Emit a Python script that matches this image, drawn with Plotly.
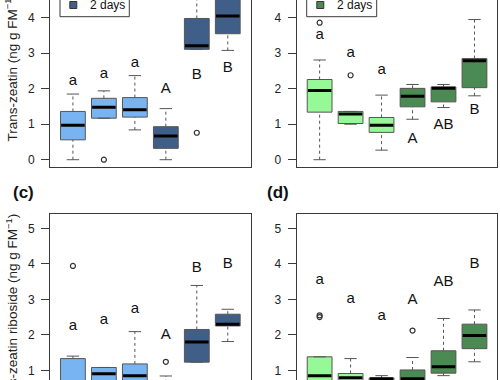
import plotly.graph_objects as go

# ---------------- data ----------------
groups = [1, 2, 3, 4, 5, 6]

# panel (a) Trans-zeatin, blue
a_low = [0.00, 1.17, 0.84, 0.00, 3.11, 3.08]
a_q1 = [0.56, 1.17, 1.20, 0.32, 3.11, 3.55]
a_med = [0.97, 1.48, 1.41, 0.67, 3.21, 4.05]
a_q3 = [1.36, 1.73, 1.75, 0.93, 3.98, 4.70]
a_up = [1.85, 1.94, 2.37, 1.44, 4.90, 5.20]
a_out = [[], [0.00], [], [], [0.76], []]
a_letters = ["a", "a", "a", "A", "B", "B"]
a_letter_y = [2.20, 2.41, 2.71, 1.98, 2.38, 2.57]

# panel (b) Trans-zeatin, green
b_low = [0.00, 1.00, 0.27, 1.14, 1.47, 1.80]
b_q1 = [1.34, 1.02, 0.77, 1.49, 1.63, 2.03]
b_med = [1.95, 1.29, 0.97, 1.79, 2.01, 2.79]
b_q3 = [2.26, 1.36, 1.19, 2.01, 2.05, 2.85]
b_up = [2.81, 1.36, 1.82, 2.12, 2.12, 3.95]
b_out = [[3.86], [2.38], [], [], [], []]
b_letters = ["a", "a", "a", "A", "AB", "B"]
b_letter_y = [3.51, 3.01, 2.51, 0.57, 0.97, 1.40]

# panel (c) Trans-zeatin riboside, blue
c_low = [0.00, 0.30, 0.30, 0.10, 1.23, 1.81]
c_q1 = [0.25, 0.55, 0.60, 0.30, 1.23, 2.25]
c_med = [0.55, 0.90, 0.85, 0.50, 1.80, 2.30]
c_q3 = [1.33, 1.08, 1.18, 0.65, 2.15, 2.58]
c_up = [1.40, 1.08, 2.09, 0.84, 3.39, 2.72]
c_out = [[3.94], [], [], [1.24], [], []]
c_letters = ["a", "a", "a", "A", "B", "B"]
c_letter_y = [2.23, 2.42, 2.73, 1.99, 3.87, 4.00]

# panel (d) Trans-zeatin riboside, green
d_low = [0.20, 0.40, 0.50, 0.30, 0.85, 1.24]
d_q1 = [0.50, 0.60, 0.60, 0.50, 0.92, 1.61]
d_med = [0.85, 0.79, 0.76, 0.76, 1.10, 1.98]
d_q3 = [1.38, 0.91, 0.78, 1.01, 1.55, 2.30]
d_up = [1.38, 1.33, 0.85, 1.36, 2.46, 2.70]
d_out = [[2.50, 2.55], [], [], [2.12], [], []]
d_letters = ["a", "a", "a", "A", "AB", "B"]
d_letter_y = [3.53, 3.01, 2.51, 2.98, 3.48, 4.00]

y_ticks = [0, 1, 2, 3, 4, 5]
legend_label = "2 days"
title_top = "Trans-zeatin (ng g FM<sup>\u22121</sup>)"
title_bottom = "Trans-zeatin riboside (ng g FM<sup>\u22121</sup>)"

# ---------------- styling ----------------
LIGHT_BLUE = "#78B4F2"
DARK_BLUE = "#3F5F88"
LIGHT_GREEN = "#96F896"
DARK_GREEN = "#4B8A52"
EDGE = "#555555"
FRAME = "#3a3a3a"
FONT = "Liberation Sans, Arial, sans-serif"
W, H = 500, 380
BOXW = 0.4   # half box width
CAPW = 0.2   # half cap width


def px(x):
    return x / W


def py(y):
    return 1 - y / H


fig = go.Figure()


def add_panel(k, low, q1, med, q3, up, outs, letters, ly, colors):
    xa, ya = ("x", "y") if k == 1 else (f"x{k}", f"y{k}")
    # boxes (one trace per colour)
    for col in dict.fromkeys(colors):
        bx, by = [], []
        for i, g in enumerate(groups):
            if colors[i] != col:
                continue
            bx += [g - BOXW, g + BOXW, g + BOXW, g - BOXW, g - BOXW, None]
            by += [q1[i], q1[i], q3[i], q3[i], q1[i], None]
        fig.add_trace(go.Scatter(x=bx, y=by, xaxis=xa, yaxis=ya, mode="lines",
                                 fill="toself", fillcolor=col,
                                 line=dict(color=EDGE, width=1),
                                 showlegend=False, hoverinfo="skip"))
    # whiskers (dashed) and caps
    wx, wy = [], []
    cx, cy = [], []
    for i, g in enumerate(groups):
        if up[i] > q3[i]:
            wx += [g, g, None]
            wy += [q3[i], up[i], None]
        if low[i] < q1[i]:
            wx += [g, g, None]
            wy += [low[i], q1[i], None]
        cx += [g - CAPW, g + CAPW, None, g - CAPW, g + CAPW, None]
        cy += [up[i], up[i], None, low[i], low[i], None]
    fig.add_trace(go.Scatter(x=wx, y=wy, xaxis=xa, yaxis=ya, mode="lines",
                             line=dict(color=EDGE, width=1, dash="3px,3px"),
                             showlegend=False, hoverinfo="skip"))
    fig.add_trace(go.Scatter(x=cx, y=cy, xaxis=xa, yaxis=ya, mode="lines",
                             line=dict(color=EDGE, width=1),
                             showlegend=False, hoverinfo="skip"))
    # medians
    mx, my = [], []
    for i, g in enumerate(groups):
        mx += [g - BOXW + 0.02, g + BOXW - 0.02, None]
        my += [med[i], med[i], None]
    fig.add_trace(go.Scatter(x=mx, y=my, xaxis=xa, yaxis=ya, mode="lines",
                             line=dict(color="black", width=3),
                             showlegend=False, hoverinfo="skip"))
    # outliers
    ox, oy = [], []
    for i, g in enumerate(groups):
        for v in outs[i]:
            ox.append(g)
            oy.append(v)
    fig.add_trace(go.Scatter(x=ox, y=oy, xaxis=xa, yaxis=ya, mode="markers",
                             marker=dict(symbol="circle-open", size=5,
                                         color="#333333", line=dict(width=1.2)),
                             showlegend=False, hoverinfo="skip"))
    # letters
    fig.add_trace(go.Scatter(x=groups, y=ly, xaxis=xa, yaxis=ya, mode="text",
                             text=letters, textposition="middle center",
                             textfont=dict(family=FONT, size=15, color="#111111"),
                             cliponaxis=False,
                             showlegend=False, hoverinfo="skip"))


blue_cols = [LIGHT_BLUE] * 3 + [DARK_BLUE] * 3
green_cols = [LIGHT_GREEN] * 3 + [DARK_GREEN] * 3
add_panel(1, a_low, a_q1, a_med, a_q3, a_up, a_out, a_letters, a_letter_y, blue_cols)
add_panel(2, b_low, b_q1, b_med, b_q3, b_up, b_out, b_letters, b_letter_y, green_cols)
add_panel(3, c_low, c_q1, c_med, c_q3, c_up, c_out, c_letters, c_letter_y, blue_cols)
add_panel(4, d_low, d_q1, d_med, d_q3, d_up, d_out, d_letters, d_letter_y, green_cols)

xdom_left = [px(50), px(250.7)]
xdom_right = [px(296.7), px(497.4)]
ydom_top = [py(166.7), 1]
ydom_bot = [0, py(214)]
xr = [0.26, 6.74]
yr_top = [-0.197, 4.50]
yr_bot = [0.727, 5.403]


def xax(dom, anchor, side):
    return dict(domain=dom, range=xr, anchor=anchor, showticklabels=False,
                ticks="", showgrid=False, zeroline=False, showline=True,
                linecolor=FRAME, linewidth=1, mirror=False, side=side,
                fixedrange=True)


def yax(dom, anchor, rng):
    return dict(domain=dom, range=rng, anchor=anchor, tickmode="array",
                tickvals=y_ticks, ticks="outside", ticklen=8, tickwidth=1,
                tickcolor=FRAME, tickfont=dict(family=FONT, size=12, color="#222222"),
                ticklabelstandoff=4,
                showgrid=False, zeroline=False, showline=True, linecolor=FRAME,
                linewidth=1, mirror=True, fixedrange=True)


shapes = []
annotations = []
# legend boxes (upper part cut off)
for (l, r, sq, col) in [(60, 129.3, 73.3, DARK_BLUE), (306.7, 376.7, 320.3, DARK_GREEN)]:
    shapes.append(dict(type="rect", xref="paper", yref="paper",
                       x0=px(l), x1=px(r), y0=py(16.7), y1=py(-40),
                       line=dict(color=FRAME, width=1), fillcolor="white",
                       layer="above"))
    shapes.append(dict(type="rect", xref="paper", yref="paper",
                       x0=px(sq - 3.5), x1=px(sq + 3.5), y0=py(8.5), y1=py(1.5),
                       line=dict(color="#333333", width=1), fillcolor=col,
                       layer="above"))
    annotations.append(dict(text=legend_label, xref="paper", yref="paper",
                            x=px(sq + 14.4), y=py(5), xanchor="left",
                            yanchor="middle", showarrow=False,
                            font=dict(family=FONT, size=12, color="#111111")))

# panel labels
for lab, x in [("(c)", 23), ("(d)", 277.5)]:
    annotations.append(dict(text=f"<b>{lab}</b>", xref="paper", yref="paper",
                            x=px(x), y=py(192), xanchor="center", yanchor="middle",
                            showarrow=False,
                            font=dict(family=FONT, size=17, color="#111111")))

# y-axis titles
annotations.append(dict(text=title_top, xref="paper", yref="paper",
                        x=px(12), y=py(67.5), textangle=-90, showarrow=False,
                        xanchor="center", yanchor="middle",
                        font=dict(family=FONT, size=13.5, color="#222222")))
annotations.append(dict(text=title_bottom, xref="paper", yref="paper",
                        x=px(12), y=py(313.4), textangle=-90, showarrow=False,
                        xanchor="center", yanchor="middle",
                        font=dict(family=FONT, size=13.5, color="#222222")))

fig.update_layout(
    width=W, height=H,
    margin=dict(l=0, r=0, t=0, b=0),
    paper_bgcolor="white", plot_bgcolor="white",
    showlegend=False,
    xaxis=xax(xdom_left, "y", "bottom"),
    yaxis=yax(ydom_top, "x", yr_top),
    xaxis2=xax(xdom_right, "y2", "bottom"),
    yaxis2=yax(ydom_top, "x2", yr_top),
    xaxis3=xax(xdom_left, "y3", "top"),
    yaxis3=yax(ydom_bot, "x3", yr_bot),
    xaxis4=xax(xdom_right, "y4", "top"),
    yaxis4=yax(ydom_bot, "x4", yr_bot),
    shapes=shapes,
    annotations=annotations,
    font=dict(family=FONT),
)

fig.write_html(
    "out.html",
    config={"displayModeBar": False},
    post_script="document.body.style.margin='0';document.body.style.padding='0';",
)
